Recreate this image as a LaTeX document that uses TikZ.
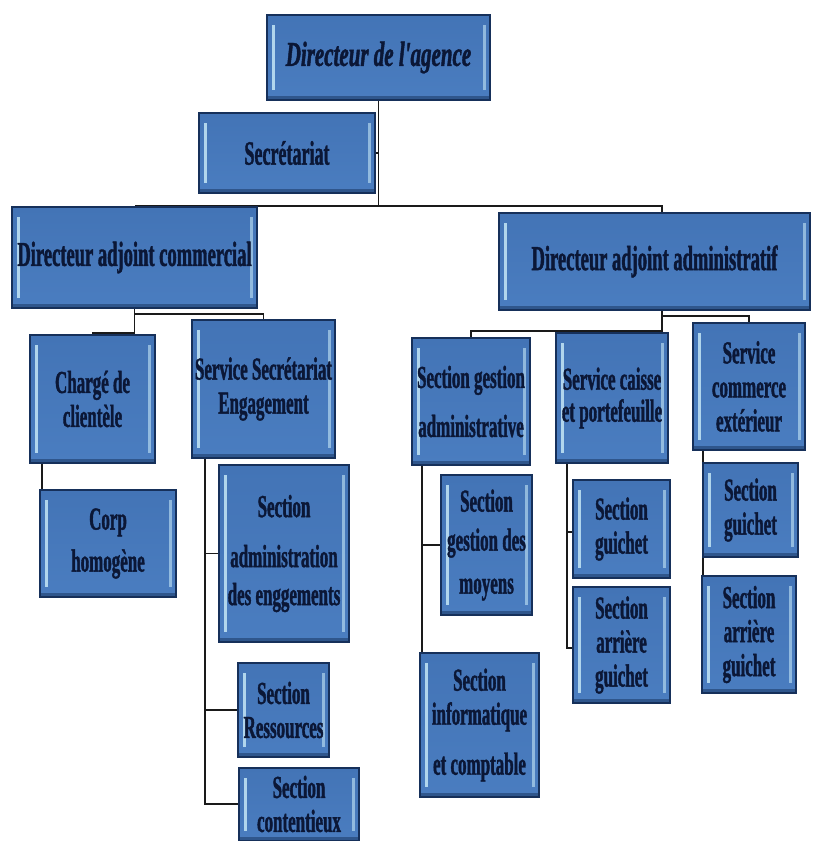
\documentclass[tikz,border=0pt]{standalone}
\usepackage{fontspec}
\setmainfont{Liberation Serif}
\newfontfamily\condf[FakeStretch=0.53,FakeBold=1.2]{Liberation Serif}
\newfontfamily\condi[FakeStretch=0.6,FakeBold=1.2]{Liberation Serif}
\usetikzlibrary{backgrounds,calc}
\definecolor{boxedge}{HTML}{16305A}
\definecolor{boxtop}{HTML}{4374B6}
\definecolor{boxmid}{HTML}{72A6E2}
\definecolor{boxbot}{HTML}{4A7DC0}
\definecolor{bevel}{HTML}{C4E6F6}
\definecolor{navytext}{HTML}{0B1736}
\definecolor{linec}{HTML}{1A1A1A}
\begin{document}
\begin{tikzpicture}[x=1pt,y=-1pt,
  ob/.style={rectangle, draw=boxedge, line width=2pt, inner sep=0pt,
    top color=boxtop, middle color=boxmid, bottom color=boxbot,
    align=center, text=navytext,
    font=\condf\bfseries\fontsize{32}{34}\selectfont,
    path picture={
      \fill[bevel, opacity=0.85] ([xshift=5pt,yshift=-10pt]path picture bounding box.north west) rectangle ([xshift=8pt,yshift=10pt]path picture bounding box.south west);
      \fill[bevel, opacity=0.6] ([xshift=-4pt,yshift=-10pt]path picture bounding box.north east) rectangle ([xshift=-7pt,yshift=10pt]path picture bounding box.south east);
      \fill[boxedge, opacity=0.5] ([yshift=4pt]path picture bounding box.south west) rectangle (path picture bounding box.south east);
    }},
  bigtxt/.style={font=\condf\bfseries\fontsize{35}{40}\selectfont},
  conn/.style={line width=1.5pt, draw=linec}]
\useasboundingbox (0,0) rectangle (812,841);

% level 0-1
\node[ob, minimum width=223pt, minimum height=85pt, font=\condi\bfseries\itshape\fontsize{35}{40}\selectfont] (d0) at (378.5,57.5) {Directeur de l'agence};
\node[ob, font=\condf\bfseries\fontsize{34}{40}\selectfont, minimum width=176pt, minimum height=80pt] (sec) at (287,153) {Secrétariat};
\node[ob, bigtxt, minimum width=245pt, minimum height=101pt] (dac) at (134.5,257.5) {Directeur adjoint commercial};
\node[ob, bigtxt, minimum width=311pt, minimum height=97pt] (daa) at (654.5,261.5) {Directeur adjoint administratif};

% commercial branch
\node[ob, minimum width=125pt, minimum height=128pt] (ch) at (92.5,399) {Chargé de\\clientèle};
\node[ob, minimum width=143pt, minimum height=138pt] (ss) at (263.5,389) {Service Secrétariat\\Engagement};
\node[ob, minimum width=136pt, minimum height=107pt] (corp) at (108,543.5) {Corp\\[8pt]homogène};
\node[ob, minimum width=130pt, minimum height=177pt] (sa) at (284,553.5) {Section\\[16pt]administration\\[4pt]des enggements};
\node[ob, minimum width=91pt, minimum height=94pt] (sr) at (283.5,710) {Section\\Ressources};
\node[ob, minimum width=120pt, minimum height=73pt] (sc) at (299,804) {Section\\contentieux};

% administrative branch
\node[ob, minimum width=118pt, minimum height=127pt] (sga) at (471,401.5) {Section gestion\\[15pt]administrative};
\node[ob, minimum width=112pt, minimum height=130pt] (sca) at (612,398) {Service caisse\\[-2pt]et portefeuille};
\node[ob, minimum width=112pt, minimum height=127pt] (sce) at (749,386.5) {Service\\commerce\\extérieur};
\node[ob, minimum width=91pt, minimum height=140pt] (sgm) at (486.5,545) {Section\\[5pt]gestion des\\[9pt]moyens};
\node[ob, minimum width=119pt, minimum height=144pt] (sic) at (479.5,725) {Section\\informatique\\[16pt]et comptable};
\node[ob, minimum width=97pt, minimum height=98pt] (sg1) at (621.5,529) {Section\\guichet};
\node[ob, minimum width=97pt, minimum height=116pt] (sag1) at (621.5,645) {Section\\arrière\\guichet};
\node[ob, minimum width=95pt, minimum height=94pt] (sg2) at (750.5,510) {Section\\guichet};
\node[ob, minimum width=94pt, minimum height=117pt] (sag2) at (749,634.5) {Section\\arrière\\guichet};

\begin{pgfonlayer}{background}
  % top
  \coordinate (j1) at (d0.south |- dac.north);
  \draw[conn] (d0.south) -- (j1) -- (dac.north);
  \draw[conn] (j1) -| ([xshift=7.5pt]daa.north);
  \draw[conn] (sec.east) -- (sec.east -| d0.south);
  % commercial
  \draw[conn] (dac.south) -- ++(0,24) -| (ch.north);
  \draw[conn] (dac.south) -- ++(0,5) -| (ss.north);
  \draw[conn] ([xshift=3pt]corp.north west) -- ([xshift=3pt]corp.north west |- ch.south);
  \coordinate (ssl) at ([xshift=14pt]ss.south west);
  \draw[conn] (ssl) |- (sc.west);
  \draw[conn] (sa.west) -- (sa.west -| ssl);
  \draw[conn] (sr.west) -- (sr.west -| ssl);
  % administrative
  \coordinate (daab) at ([xshift=7.5pt]daa.south);
  \coordinate (j2) at ($(daab)+(0,20)$);
  \draw[conn] (daab) -- (j2) -| (sga.north);
  \draw[conn] (sca.north) -- (sca.north |- j2);
  \draw[conn] (daab) -- ++(0,5) -| (sce.north);
  \coordinate (sgal) at ([xshift=11pt]sga.south west);
  \draw[conn] (sgal) -- (sgal |- sic.north);
  \draw[conn] (sgm.west) -- (sgm.west -| sgal);
  \coordinate (scal) at ([xshift=12pt]sca.south west);
  \draw[conn] (scal) |- ([yshift=-3pt]sag1.west);
  \draw[conn] ([yshift=-3pt]sg1.west) -- ([yshift=-3pt]sg1.west -| scal);
  \coordinate (scel) at ([xshift=11pt]sce.south west);
  \draw[conn] (scel) -- (scel |- sag2.north);
\end{pgfonlayer}
\end{tikzpicture}
\end{document}
